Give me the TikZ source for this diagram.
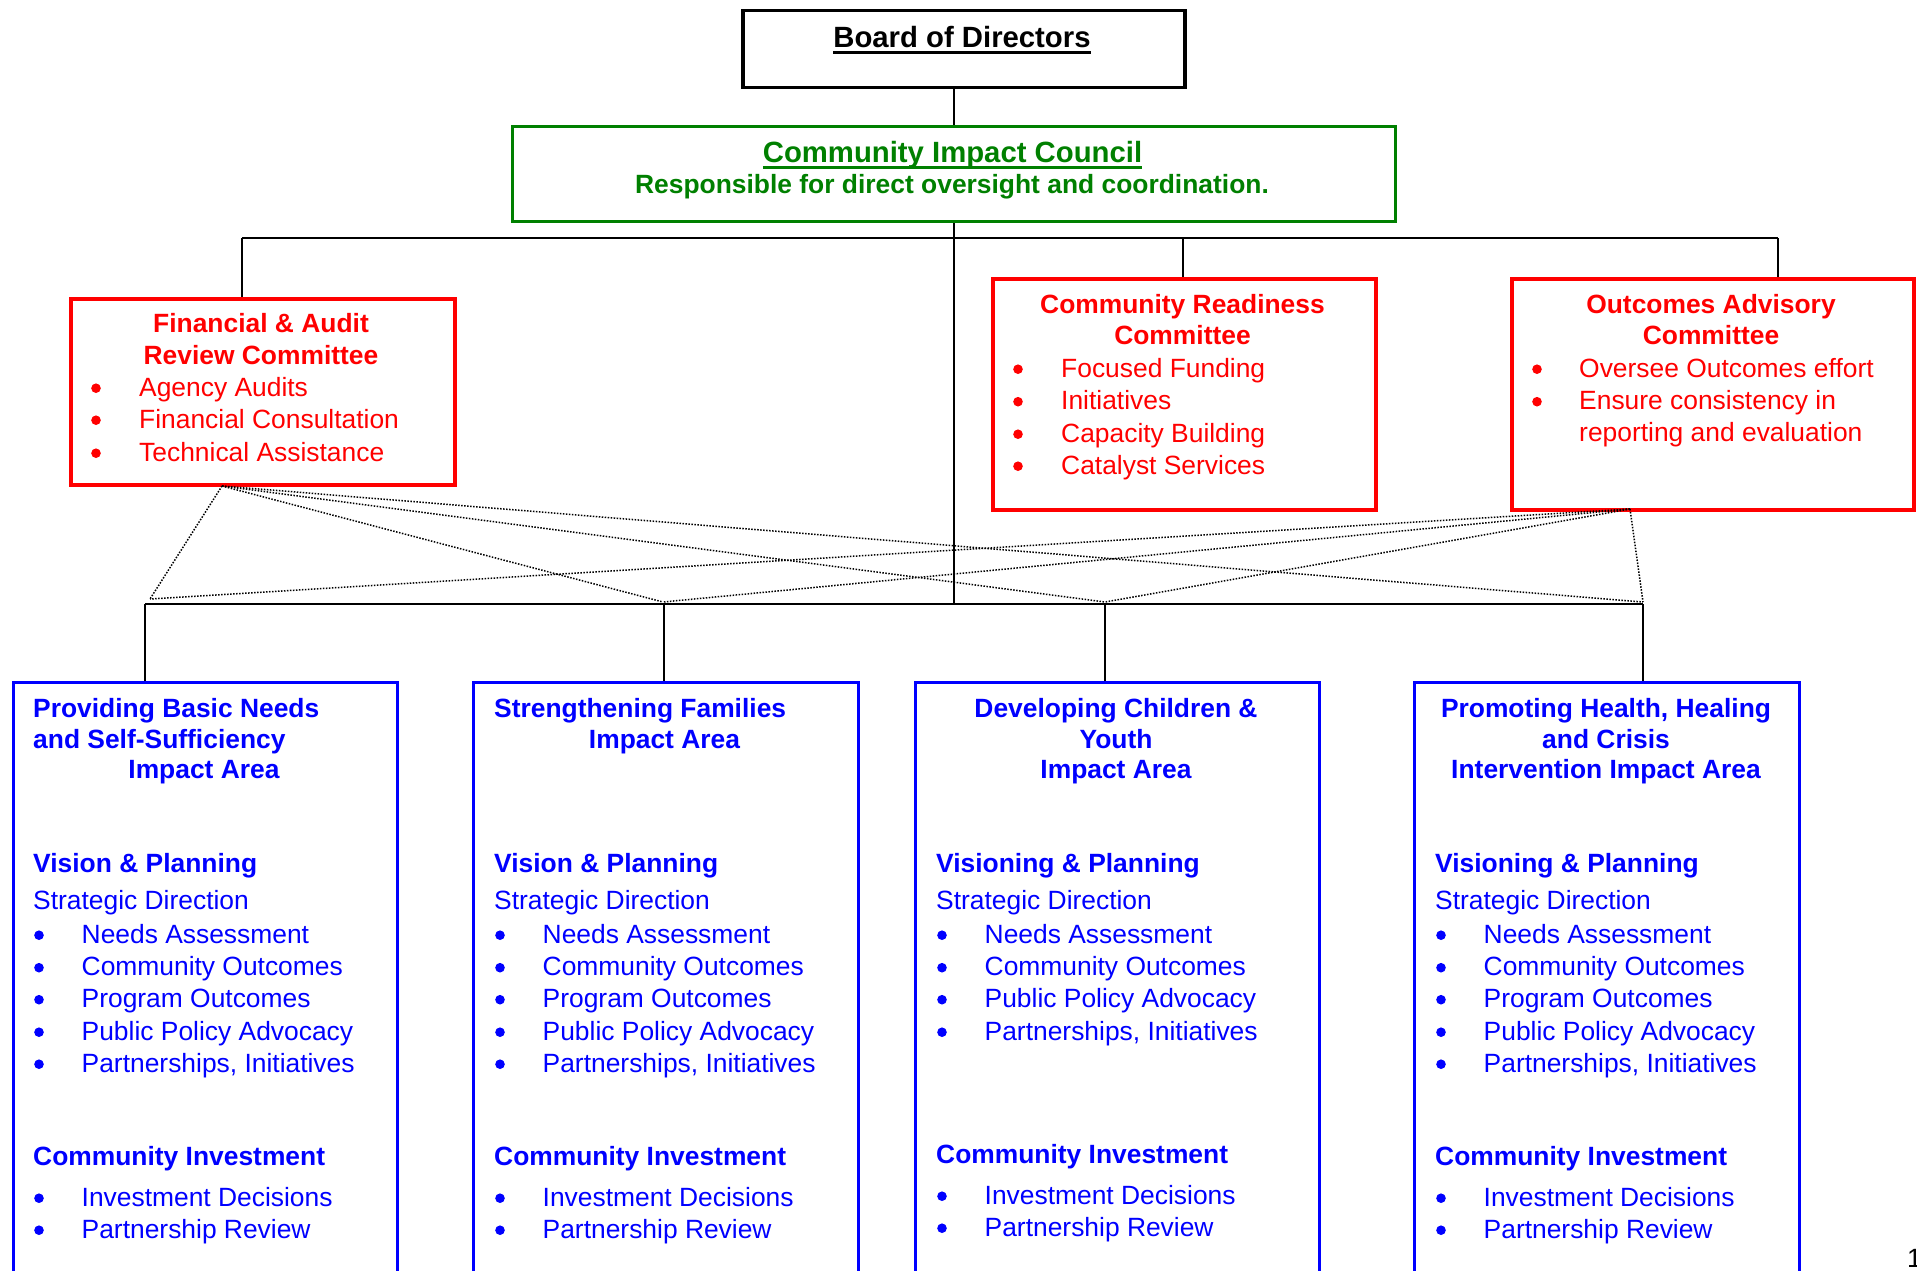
\documentclass[tikz,border=0pt]{standalone}
\usepackage{fontspec}
\setmainfont{Liberation Sans}
\definecolor{cRed}{RGB}{255,0,0}
\definecolor{cGreen}{RGB}{0,128,0}
\definecolor{cBlue}{RGB}{0,0,255}
\newsavebox\ulbox
\newcommand\myul[1]{\sbox\ulbox{#1}\rlap{\rule[-6pt]{\wd\ulbox}{2.8pt}}\usebox\ulbox}
% blue area body: #1 prefix, #2 left x, #3 heading, #4 items, #5 investment baseline
\newcommand\areabody[5]{%
  \node[txtb, text=cBlue] (#1vp) at (#2,872) {#3};
  \node[txt, text=cBlue] (#1sd) at (#2,909.3) {Strategic Direction};
  \foreach \yy/\ss [count=\ii] in {#4} {
    \node[bul, fill=cBlue] (#1b\ii) at ({#2+6},{\yy-7.8}) {};
    \node[txt, text=cBlue] (#1i\ii) at ({#2+48.5},\yy) {\ss};
  }
  \node[txtb, text=cBlue] (#1ci) at (#2,#5) {Community Investment};
  \node[bul, fill=cBlue] (#1cb1) at ({#2+6},{#5+41-7.8}) {};
  \node[txt, text=cBlue] (#1ci1) at ({#2+48.5},{#5+41}) {Investment Decisions};
  \node[bul, fill=cBlue] (#1cb2) at ({#2+6},{#5+73-7.8}) {};
  \node[txt, text=cBlue] (#1ci2) at ({#2+48.5},{#5+73}) {Partnership Review};
}
\begin{document}
\begin{tikzpicture}[x=1pt,y=-1pt,
  box/.style={draw, inner sep=0pt, anchor=north west},
  conn/.style={draw=black, line width=2pt},
  dotl/.style={draw=black, line width=1.5pt, dash pattern=on 1.5pt off 1.5pt},
  txt/.style={inner sep=0pt, anchor=base west, font=\fontsize{26.4}{31}\selectfont},
  txtb/.style={inner sep=0pt, anchor=base west, font=\fontsize{26.4}{31}\selectfont\bfseries},
  tc/.style={anchor=base},
  big/.style={inner sep=0pt, anchor=base, font=\fontsize{29.3}{34}\selectfont\bfseries},
  bul/.style={circle, inner sep=0pt, minimum size=9.6pt, draw=none},
]
\useasboundingbox (0,0) rectangle (1917,1270);
\clip (0,0) rectangle (1917,1270);

% ---------- boxes ----------
\node[box, line width=3.5pt, minimum width=442pt, minimum height=77pt] (board) at (741,8.5) {};
\node[box, draw=cGreen, line width=3pt, minimum width=883pt, minimum height=95pt] (council) at (511,125) {};
\node[box, draw=cRed, line width=3.5pt, minimum width=384pt, minimum height=186pt] (fin) at (69,297) {};
\node[box, draw=cRed, line width=3.5pt, minimum width=383pt, minimum height=231pt] (cr) at (991,277) {};
\node[box, draw=cRed, line width=3.5pt, minimum width=402pt, minimum height=231pt] (oa) at (1510,277) {};
\node[box, draw=cBlue, line width=3pt, minimum width=384pt, minimum height=640pt] (a1) at (12,681) {};
\node[box, draw=cBlue, line width=3pt, minimum width=385pt, minimum height=640pt] (a2) at (472,681) {};
\node[box, draw=cBlue, line width=3pt, minimum width=404pt, minimum height=640pt] (a3) at (914,681) {};
\node[box, draw=cBlue, line width=3pt, minimum width=385pt, minimum height=640pt] (a4) at (1413,681) {};

% ---------- junction coordinates ----------
\coordinate (tF) at (242,238);
\coordinate (tC) at (1183,238);
\coordinate (tO) at (1778,238);
\coordinate (b1) at (145,604);
\coordinate (b2) at (664,604);
\coordinate (b3) at (1105,604);
\coordinate (b4) at (1643,604);
\coordinate (fd) at (222,486);
\coordinate (od) at (1630,509);
\coordinate (e1) at (150,599);
\coordinate (e2) at (663,602);
\coordinate (e3) at (1105,602);
\coordinate (e4) at (1643,602);

% ---------- connectors ----------
\draw[conn] (council.north) -- (council.north |- board.south);
\draw[conn] (council.south) -- (council.south |- b1);
\draw[conn] (tF) -- (tO);
\draw[conn] (tF) -- (tF |- fin.north);
\draw[conn] (tC) -- (tC |- cr.north);
\draw[conn] (tO) -- (tO |- oa.north);
\draw[conn] (b1) -- (b4);
\draw[conn] (b1) -- (b1 |- a1.north);
\draw[conn] (b2) -- (b2 |- a2.north);
\draw[conn] (b3) -- (b3 |- a3.north);
\draw[conn] (b4) -- (b4 |- a4.north);

% dotted advisory links
\foreach \e in {e1,e2,e3,e4} {
  \draw[dotl] (fd) -- (\e);
  \draw[dotl] (od) -- (\e);
}

% ---------- top texts ----------
\node[big] (tboard) at (962,47.7) {\myul{Board of Directors}};
\node[big, text=cGreen] (tcouncil) at (952.5,162.5) {\myul{Community Impact Council}};
\node[txtb, tc, text=cGreen] (tcsub) at (952,193.5) {Responsible for direct oversight and coordination.};

% ---------- Financial & Audit ----------
\node[txtb, tc, text=cRed] (f1) at (261,332.5) {Financial \& Audit};
\node[txtb, tc, text=cRed] (f2) at (261,364) {Review Committee};
\foreach \yy/\ss [count=\ii] in {396/Agency Audits, 428/Financial Consultation, 461/Technical Assistance} {
  \node[bul, fill=cRed] (fb\ii) at (96,{\yy-7.8}) {};
  \node[txt, text=cRed] (fi\ii) at (139,\yy) {\ss};
}

% ---------- Community Readiness ----------
\node[txtb, tc, text=cRed] (c1) at (1182.5,313.5) {Community Readiness};
\node[txtb, tc, text=cRed] (c2) at (1182.5,344) {Committee};
\foreach \yy/\ss [count=\ii] in {377/Focused Funding, 409.5/Initiatives, 442/Capacity Building, 474/Catalyst Services} {
  \node[bul, fill=cRed] (cb\ii) at (1018,{\yy-7.8}) {};
  \node[txt, text=cRed] (ci\ii) at (1061,\yy) {\ss};
}

% ---------- Outcomes Advisory ----------
\node[txtb, tc, text=cRed] (o1) at (1711,313.5) {Outcomes Advisory};
\node[txtb, tc, text=cRed] (o2) at (1711,344) {Committee};
\node[bul, fill=cRed] (ob1) at (1537,369.2) {};
\node[txt, text=cRed] (oi1) at (1579,377) {Oversee Outcomes effort};
\node[bul, fill=cRed] (ob2) at (1537,401.7) {};
\node[txt, text=cRed] (oi2) at (1579,409.5) {Ensure consistency in};
\node[txt, text=cRed] (oi3) at (1579,441) {reporting and evaluation};

% ---------- Impact area titles ----------
\node[txtb, text=cBlue] (a1t1) at (33,717) {Providing Basic Needs};
\node[txtb, text=cBlue] (a1t2) at (33,748) {and Self-Sufficiency};
\node[txtb, tc, text=cBlue] (a1t3) at (204,778) {Impact Area};

\node[txtb, text=cBlue] (a2t1) at (494,717) {Strengthening Families};
\node[txtb, tc, text=cBlue] (a2t2) at (664.5,748) {Impact Area};

\node[txtb, tc, text=cBlue] (a3t1) at (1116,717) {Developing Children \&};
\node[txtb, tc, text=cBlue] (a3t2) at (1116,748) {Youth};
\node[txtb, tc, text=cBlue] (a3t3) at (1116,778) {Impact Area};

\node[txtb, tc, text=cBlue] (a4t1) at (1606,717) {Promoting Health, Healing};
\node[txtb, tc, text=cBlue] (a4t2) at (1606,748) {and Crisis};
\node[txtb, tc, text=cBlue] (a4t3) at (1606,778) {Intervention Impact Area};

% ---------- Impact area bodies ----------
\areabody{p}{33}{Vision \& Planning}{943/Needs Assessment, 975.5/Community Outcomes, 1007.5/Program Outcomes, 1040/Public Policy Advocacy, 1072/{Partnerships, Initiatives}}{1165}
\areabody{q}{494}{Vision \& Planning}{943/Needs Assessment, 975.5/Community Outcomes, 1007.5/Program Outcomes, 1040/Public Policy Advocacy, 1072/{Partnerships, Initiatives}}{1165}
\areabody{r}{936}{Visioning \& Planning}{943/Needs Assessment, 975.5/Community Outcomes, 1007.5/Public Policy Advocacy, 1040/{Partnerships, Initiatives}}{1163}
\areabody{s}{1435}{Visioning \& Planning}{943/Needs Assessment, 975.5/Community Outcomes, 1007.5/Program Outcomes, 1040/Public Policy Advocacy, 1072/{Partnerships, Initiatives}}{1165}

% page number (cut at the edge, as in the original)
\node[txt] (pagenum) at (1907,1267) {1};
\end{tikzpicture}
\end{document}
